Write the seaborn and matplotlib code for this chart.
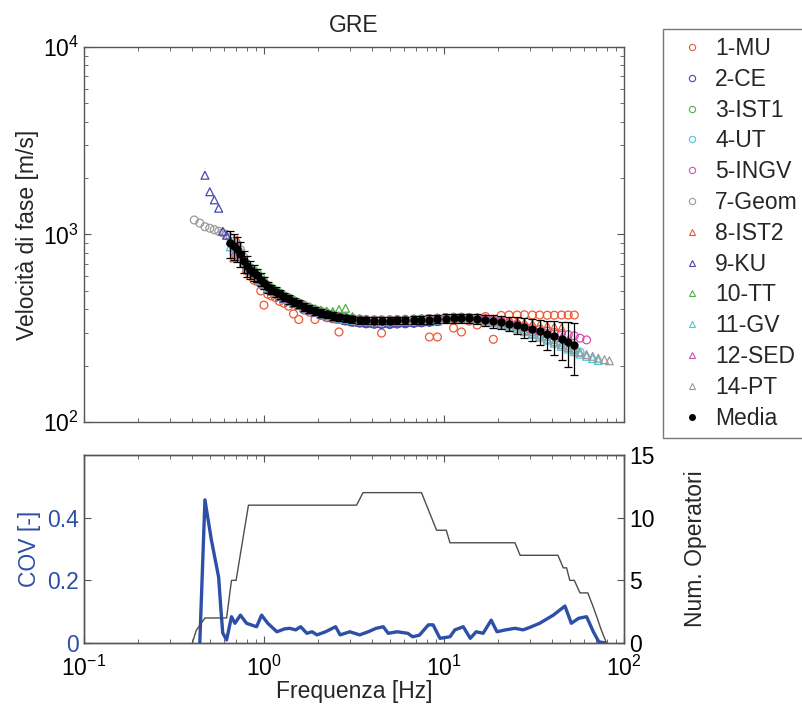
import numpy as np
import pandas as pd
import seaborn as sns
import matplotlib.pyplot as plt
from matplotlib.lines import Line2D

nan = np.nan

# frequency grid [Hz]
freq = [0.41, 0.44, 0.47, 0.50, 0.53, 0.56, 0.59, 0.62, 0.65, 0.68,
        0.71, 0.74, 0.77, 0.80, 0.84, 0.88, 0.92, 0.96, 1.0, 1.05,
        1.1, 1.16, 1.22, 1.29, 1.37, 1.46, 1.56, 1.67, 1.79, 1.92,
        2.07, 2.23, 2.41, 2.61, 2.84, 3.1, 3.4, 3.7, 4.1, 4.5,
        5.0, 5.5, 6.1, 6.8, 7.5, 8.3, 9.2, 10.2, 11.3, 12.5,
        13.8, 15.3, 17.0, 18.8, 20.8, 23.0, 25.5, 28.0, 31.0, 34.0,
        37.5, 41.0, 45.0, 49.0, 53.0, 57.0, 62.0, 67.0, 72.0, 78.0,
        83.0]

# phase velocity [m/s] for each operator (nan = not picked)
mu = [nan, nan, nan, nan, nan, nan, nan, nan, nan, nan,
      nan, nan, nan, 640, 600, 570, 560, 500, 420, 480,
      470, 460, 440, 430, 415, 377, 352, 395, 385, 352,
      370, 360, 355, 302, 345, 340, 338, 335, 340, 298,
      335, 340, 342, 338, 345, 284, 284, 360, 317, 302,
      345, 329, 365, 276, 370, 372, 372, 373, 372, 372,
      371, 371, 372, 372, 372, nan, nan, nan, nan, nan,
      nan]
ce = [nan, nan, nan, nan, nan, nan, nan, nan, nan, nan,
      820, 780, 700, 670, 640, 615, 590, 565, 540, 515,
      500, 488, 472, 458, 445, 432, 420, 408, 398, 388,
      378, 370, 362, 355, 348, 342, 337, 334, 332, 331,
      331, 333, 334, 336, 338, 340, 343, nan, nan, nan,
      nan, nan, nan, nan, nan, nan, nan, nan, nan, nan,
      nan, nan, nan, nan, nan, nan, nan, nan, nan, nan,
      nan]
ist1 = [nan, nan, nan, nan, nan, nan, nan, nan, nan, nan,
        nan, nan, nan, 700, 665, 640, 620, 590, 560, 535,
        518, 500, 488, 472, 460, 445, 432, 420, 408, 398,
        390, 382, 374, 367, 362, 357, 354, 352, 351, 351,
        351, 352, 353, 354, 355, 356, 358, 360, 362, 362,
        360, 358, 354, 349, 344, 338, 332, nan, nan, nan,
        nan, nan, nan, nan, nan, nan, nan, nan, nan, nan,
        nan]
ut = [nan, nan, nan, nan, nan, nan, nan, nan, nan, nan,
      850, 800, 725, 680, 648, 622, 600, 572, 546, 522,
      507, 492, 477, 463, 450, 436, 423, 410, 400, 390,
      381, 373, 366, 360, 355, 351, 348, 346, 345, 345,
      345, 346, 347, 348, 349, 350, 352, 354, 356, 356,
      355, 352, 347, 341, 335, 328, 320, 311, 302, 293,
      284, 275, 265, 255, 245, 236, nan, nan, nan, nan,
      nan]
ingv = [nan, nan, nan, nan, nan, nan, nan, nan, nan, nan,
        nan, nan, nan, nan, nan, nan, nan, nan, nan, nan,
        nan, nan, nan, nan, nan, nan, nan, nan, nan, nan,
        nan, nan, nan, nan, nan, 352, 350, 349, 348, 348,
        349, 350, 351, 352, 353, 355, 357, 358, 360, 361,
        360, 358, 355, 351, 346, 340, 333, 326, 318, 311,
        305, 300, 296, 292, 288, 280, 274, nan, nan, nan,
        nan]
geom = [1195, 1150, 1100, 1080, 1060, 1040, 1020, 1000, 960, 920,
        880, 830, 760, 700, 660, 630, 600, 570, 545, 520,
        505, 490, 478, 462, 450, 436, 423, 410, 400, 390,
        382, 374, 367, 361, 356, 352, 349, 347, 346, 346,
        346, 347, 348, 349, 350, 351, nan, nan, nan, nan,
        nan, nan, nan, nan, nan, nan, nan, nan, nan, nan,
        nan, nan, nan, nan, nan, nan, nan, nan, nan, nan,
        nan]
ist2 = [nan, nan, nan, nan, nan, nan, nan, nan, nan, 750,
        935, 760, 700, 660, 635, 610, 590, 565, 540, 520,
        505, 490, 476, 462, 450, 436, 424, 412, 402, 392,
        384, 376, 369, 363, 358, 354, 351, 349, 348, 348,
        349, 350, 351, 352, 353, 355, 357, 359, 361, 362,
        362, 361, 358, 354, 350, 346, 342, 338, 334, 330,
        326, 322, 318, nan, nan, nan, nan, nan, nan, nan,
        nan]
ku = [nan, nan, 2070, 1690, 1530, 1380, 1040, 990, 930, 880,
      840, 800, 740, 690, 655, 620, 595, 565, 540, 515,
      500, 485, 470, 455, 442, 430, 418, 405, 395, 385,
      376, 368, 360, 354, 348, 343, 340, 338, 336, 336,
      337, 338, 339, 340, 342, 344, 346, nan, nan, nan,
      nan, nan, nan, nan, nan, nan, nan, nan, nan, nan,
      nan, nan, nan, nan, nan, nan, nan, nan, nan, nan,
      nan]
tt = [nan, nan, nan, nan, nan, nan, nan, nan, nan, nan,
      nan, 800, 735, 690, 662, 640, 615, 585, 560, 535,
      520, 505, 490, 476, 462, 448, 435, 422, 412, 402,
      395, 390, 388, 398, 404, 365, 356, 352, 350, 350,
      350, 351, 352, 353, 354, 356, 358, 360, 362, nan,
      nan, nan, nan, nan, nan, nan, nan, nan, nan, nan,
      nan, nan, nan, nan, nan, nan, nan, nan, nan, nan,
      nan]
gv = [nan, nan, nan, nan, nan, nan, nan, nan, 860, 820,
      790, 770, 710, 670, 642, 618, 596, 568, 543, 520,
      504, 489, 474, 460, 447, 434, 421, 408, 398, 388,
      379, 371, 364, 358, 353, 349, 346, 344, 343, 343,
      343, 344, 345, 346, 347, 348, 350, 352, 354, 354,
      353, 350, 345, 338, 331, 322, 313, 303, 293, 283,
      273, 263, 253, 245, 237, 230, 224, 218, 213, nan,
      nan]
sed = [nan, nan, nan, nan, nan, nan, nan, nan, nan, 780,
       860, 790, 730, 690, 660, 632, 605, 578, 552, 528,
       512, 497, 482, 468, 455, 441, 428, 415, 404, 395,
       386, 378, 371, 365, 360, 356, 352, 350, 349, 349,
       349, 350, 351, 352, 353, 354, 356, 358, 359, 360,
       359, 357, 353, 348, 342, 336, 330, 322, 314, 306,
       298, 290, 282, 274, nan, nan, nan, nan, nan, nan,
       nan]
pt = [nan, nan, nan, nan, nan, nan, nan, nan, nan, 850,
      820, 775, 715, 675, 645, 620, 598, 570, 544, 521,
      505, 490, 476, 462, 449, 436, 422, 410, 400, 390,
      381, 373, 366, 360, 355, 351, 348, 346, 345, 345,
      345, 346, 347, 348, 349, 350, 352, 354, 355, 355,
      354, 351, 346, 340, 333, 325, 316, 307, 297, 287,
      277, 268, 259, 250, 242, 235, 229, 224, 219, 215,
      212]

media = [nan, nan, nan, nan, nan, nan, nan, nan, 900, 870,
         840, 790, 720, 680, 650, 625, 605, 575, 550, 525,
         510, 495, 480, 465, 452, 438, 425, 412, 402, 392,
         383, 375, 368, 362, 357, 353, 350, 348, 347, 347,
         347, 348, 349, 350, 351, 352, 354, 356, 358, 358,
         357, 355, 350, 345, 340, 334, 328, 320, 312, 304,
         295, 287, 278, 268, 258, nan, nan, nan, nan, nan,
         nan]
media_err = [nan, nan, nan, nan, nan, nan, nan, nan, 150, 140,
             130, 120, 100, 90, 70, 60, 50, 45, 40, 35,
             30, 30, 28, 25, 25, 22, 20, 20, 20, 18,
             18, 18, 16, 16, 15, 15, 15, 15, 15, 15,
             15, 15, 15, 16, 16, 18, 18, 20, 20, 20,
             20, 22, 24, 26, 28, 30, 34, 38, 42, 46,
             52, 58, 64, 72, 80, nan, nan, nan, nan, nan,
             nan]

# coefficient of variation
cov_f = [0.44, 0.47, 0.51, 0.56, 0.575, 0.59, 0.62, 0.66, 0.69, 0.74,
         0.80, 0.91, 0.97, 1.05, 1.18, 1.30, 1.39, 1.5, 1.6, 1.73,
         1.85, 1.97, 2.2, 2.5, 2.65, 3.0, 3.4, 3.8, 4.2, 4.6,
         4.9, 5.5, 6.3, 6.7, 7.3, 8.2, 8.7, 9.5, 10.8, 11.5,
         12.8, 14.0, 15.1, 16.5, 18.3, 19.7, 22.0, 24.8, 27.5, 30.0,
         34.0, 40.5, 47.0, 51.0, 56.0, 62.0, 67.6, 72.5, 79.0]
cov_v = [0.0, 0.457, 0.33, 0.21, 0.116, 0.032, 0.01, 0.084, 0.063, 0.089,
         0.063, 0.052, 0.089, 0.063, 0.036, 0.045, 0.047, 0.042, 0.052, 0.031,
         0.036, 0.026, 0.036, 0.052, 0.026, 0.036, 0.026, 0.036, 0.047, 0.052,
         0.031, 0.036, 0.031, 0.02, 0.025, 0.058, 0.058, 0.015, 0.02, 0.042,
         0.052, 0.015, 0.036, 0.031, 0.073, 0.036, 0.042, 0.047, 0.042, 0.05,
         0.063, 0.089, 0.118, 0.063, 0.079, 0.084, 0.036, 0.004, 0.0]

# number of operators
nop_f = [0.40, 0.42, 0.47, 0.62, 0.66, 0.70, 0.82, 3.27, 3.55, 7.5,
         9.1, 10.3, 10.8, 24.8, 26.5, 43.0, 46.0, 48.0, 50.0, 53.0,
         57.0, 63.0, 67.0, 71.0, 75.0, 80.0]
nop_n = [0, 1, 2, 2, 5, 5, 11, 11, 12, 12,
         9, 9, 8, 8, 7, 7, 6, 6, 5, 5,
         4, 4, 3, 2, 1, 0]

red, blue, green = "#ee5a35", "#4848b0", "#4fae48"
cyan, magenta, grey = "#4cc6da", "#d04fb0", "#9a9a9a"
operators = [
    ("1-MU", mu, "o", red), ("2-CE", ce, "o", blue), ("3-IST1", ist1, "o", green),
    ("4-UT", ut, "o", cyan), ("5-INGV", ingv, "o", magenta), ("7-Geom", geom, "o", grey),
    ("8-IST2", ist2, "^", red), ("9-KU", ku, "^", blue), ("10-TT", tt, "^", green),
    ("11-GV", gv, "^", cyan), ("12-SED", sed, "^", magenta), ("14-PT", pt, "^", grey),
]

FS = 16.5

sns.set_style("ticks")
plt.rcParams["font.family"] = ["Liberation Sans", "DejaVu Sans"]
plt.rcParams["mathtext.default"] = "regular"
plt.rcParams["axes.edgecolor"] = "#555555"
plt.rcParams["axes.linewidth"] = 1.0
plt.rcParams["xtick.color"] = "#555555"
plt.rcParams["ytick.color"] = "#555555"
plt.rcParams["xtick.labelcolor"] = "black"
plt.rcParams["ytick.labelcolor"] = "black"

fig = plt.figure(figsize=(8.02, 7.11), dpi=100)
ax1 = fig.add_axes([0.1047, 0.4065, 0.6733, 0.5274])
ax2 = fig.add_axes([0.1047, 0.0956, 0.6733, 0.2644])

# --- dispersion curves
for name, vals, mk, col in operators:
    sns.scatterplot(x=freq, y=vals, marker=mk, s=32, facecolor="none",
                    edgecolor=col, linewidth=0.9, ax=ax1)
ax1.errorbar(freq, media, yerr=media_err, fmt="none", ecolor="black",
             elinewidth=0.9, capsize=3, capthick=0.9)
sns.scatterplot(x=freq, y=media, color="black", s=36, linewidth=0, ax=ax1)

ax1.set_xscale("log")
ax1.set_yscale("log")
ax1.set_xlim(0.1, 100)
ax1.set_ylim(100, 10000)
ax1.tick_params(which="both", direction="in", top=True, right=True,
                labelbottom=False, labelsize=FS)
ax1.tick_params(which="major", length=5)
ax1.tick_params(which="minor", length=3)
ax1.set_title("GRE", fontsize=FS, pad=11)
ax1.set_ylabel("Velocità di fase [m/s]", fontsize=FS)
ax1.yaxis.set_label_coords(-0.083, 0.5)

handles = [Line2D([], [], ls="none", marker=mk, mfc="none", mec=col, ms=4.5, mew=0.8)
           for name, vals, mk, col in operators]
handles.append(Line2D([], [], ls="none", marker="o", color="black", ms=4))
labels = [op[0] for op in operators] + ["Media"]
fig.legend(handles, labels, loc="upper left", bbox_to_anchor=(663 / 802, 1 - 29 / 711),
           fontsize=FS, frameon=True, fancybox=False, edgecolor="#555555",
           handlelength=1.83, handletextpad=0.09, labelspacing=0.34,
           borderpad=0.35, borderaxespad=0)

# --- COV and number of operators
cov_col = "#2d4fa8"
sns.lineplot(x=cov_f, y=cov_v, color=cov_col, linewidth=2.4, ax=ax2)
ax2.set_xscale("log")
ax2.set_xlim(0.1, 100)
ax2.set_ylim(0, 0.6)
ax2.set_yticks([0, 0.2, 0.4])
ax2.set_yticklabels(["0", "0.2", "0.4"])
ax2.tick_params(axis="y", labelcolor=cov_col)
ax2.tick_params(which="both", direction="in", top=True, labelsize=FS)
ax2.tick_params(axis="x", pad=9)
ax2.tick_params(which="major", length=5)
ax2.tick_params(which="minor", length=3)
ax2.set_ylabel("COV [-]", fontsize=FS, color=cov_col)
ax2.yaxis.set_label_coords(-0.08, 0.5)
ax2.set_xlabel("Frequenza [Hz]", fontsize=FS)
ax2.xaxis.set_label_coords(0.5, -0.197)

ax3 = ax2.twinx()
sns.lineplot(x=nop_f, y=nop_n, color="#4d4d4d", linewidth=1.0, ax=ax3)
ax3.set_xscale("log")
ax3.set_xlim(0.1, 100)
ax3.set_ylim(0, 15)
ax3.set_yticks([0, 5, 10, 15])
ax3.tick_params(direction="in", labelsize=FS, length=5)
ax3.set_ylabel("Num. Operatori", fontsize=FS)
ax3.yaxis.set_label_coords(1.111, 0.5)

fig.savefig("out.png", dpi=100)
